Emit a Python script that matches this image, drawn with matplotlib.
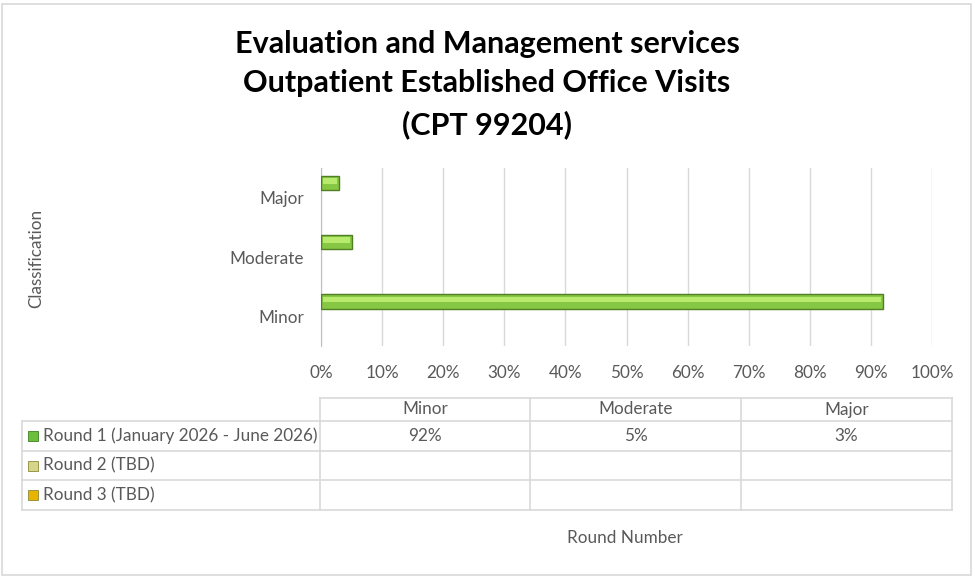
import numpy as np
import matplotlib
matplotlib.use("Agg")
import matplotlib.pyplot as plt
from matplotlib.patches import Rectangle

# data
categories = ["Minor", "Moderate", "Major"]
series_names = ["Round 1 (January 2026 - June 2026)", "Round 2 (TBD)", "Round 3 (TBD)"]
round1 = [0.92, 0.05, 0.03]
round2 = [np.nan, np.nan, np.nan]
round3 = [np.nan, np.nan, np.nan]
table_text = [["92%", "5%", "3%"], ["", "", ""], ["", "", ""]]
xticks = np.arange(0, 1.01, 0.1)
xtick_labels = ["0%", "10%", "20%", "30%", "40%", "50%", "60%", "70%", "80%", "90%", "100%"]
title_lines = ["Evaluation and Management services",
               "Outpatient Established Office Visits",
               "(CPT 99204)"]

plt.rcParams["font.family"] = ["Lato", "DejaVu Sans"]
W, H = 975, 578
fig = plt.figure(figsize=(W / 100, H / 100), dpi=100)
fig.patch.set_facecolor("white")

grey = "#595959"
gridc = "#d9d9d9"
swatch_colors = ["#6cbf3c", "#d6d68a", "#e8b400"]
fs = 12.3

# bar chart
ax = fig.add_axes([321 / W, 1 - 346 / H, (932 - 321) / W, (346 - 168) / H])
y = np.arange(len(categories))
h = 0.24
off = 0.25
for vals, d in zip([round1, round2, round3], [off, 0, -off]):
    ax.barh(y + d, vals, height=h, color="#86c843", edgecolor="#4f7f22", linewidth=1.0, zorder=3)
    # bevel highlight
    ax.barh(y + d + h * 0.14, np.array(vals) - 0.006, left=0.003, height=h * 0.38,
            color="#b8ea6e", linewidth=0, zorder=4)
ax.set_xlim(0, 1)
ax.set_ylim(-0.5, 2.5)
ax.set_xticks(xticks)
ax.set_xticklabels(xtick_labels, color=grey, fontsize=fs)
ax.set_yticks(y)
ax.set_yticklabels(categories, color=grey, fontsize=fs)
ax.tick_params(length=0, pad=12)
ax.tick_params(axis="x", pad=14)
ax.grid(axis="x", color=gridc, linewidth=1)
ax.set_axisbelow(True)
for s in ["top", "right", "bottom"]:
    ax.spines[s].set_visible(False)
ax.spines["left"].set_color("#bfbfbf")

# overlay in pixel coords for title, table, border
ov = fig.add_axes([0, 0, 1, 1])
ov.set_xlim(0, W)
ov.set_ylim(H, 0)
ov.axis("off")
ov.patch.set_alpha(0)

ov.add_patch(Rectangle((2, 4), 969, 571, fill=False, edgecolor=gridc, linewidth=1.2))

for yy, line in zip([44, 83, 125], title_lines):
    ov.text(487, yy, line, ha="center", va="center", fontsize=22, fontweight="bold", color="black")

ov.text(36, 258, "Classification", rotation=90, ha="center", va="center", color=grey, fontsize=fs)
ov.text(625, 538, "Round Number", ha="center", va="center", color=grey, fontsize=fs)

# data table
col_x = [320, 530, 741, 952]
row_y = [398, 421, 451, 480, 510]
lc = dict(color=gridc, linewidth=1.2)
ov.plot([col_x[0], col_x[-1]], [row_y[0], row_y[0]], **lc)
for ry in row_y[1:]:
    ov.plot([22, col_x[-1]], [ry, ry], **lc)
ov.plot([22, 22], [row_y[1], row_y[-1]], **lc)
for cx in col_x:
    ov.plot([cx, cx], [row_y[0], row_y[-1]], **lc)

for j, cat in enumerate(categories):
    cx = (col_x[j] + col_x[j + 1]) / 2
    ov.text(cx, (row_y[0] + row_y[1]) / 2, cat, ha="center", va="center", color=grey, fontsize=fs)
    for i in range(3):
        ov.text(cx, (row_y[i + 1] + row_y[i + 2]) / 2, table_text[i][j],
                ha="center", va="center", color=grey, fontsize=fs)

for i, name in enumerate(series_names):
    cy = (row_y[i + 1] + row_y[i + 2]) / 2
    ov.plot(33, cy, marker="s", markersize=7, color=swatch_colors[i],
            markeredgecolor="#8a8a3a" if i else "#3f7f1f", markeredgewidth=0.6)
    ov.text(43, cy, name, ha="left", va="center", color=grey, fontsize=fs)

fig.savefig("out.png", dpi=100)
